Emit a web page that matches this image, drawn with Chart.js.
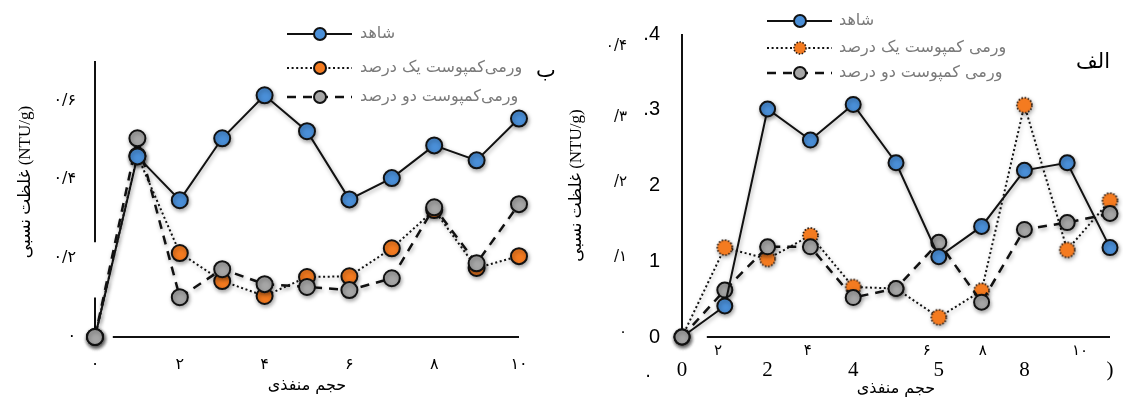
<!DOCTYPE html>
<html>
<head>
<meta charset="utf-8">
<script src="https://cdn.jsdelivr.net/npm/chart.js@4.4.1/dist/chart.umd.min.js"></script>
<style>
  html, body { margin: 0; padding: 0; background: #fff; }
  #wrap { position: relative; width: 1123px; height: 398px; }
  .panel { position: absolute; top: 0; height: 398px; }
  #panelB { left: 0; width: 560px; }
  #panelA { left: 560px; width: 563px; }
</style>
</head>
<body>
<div id="wrap">
  <div class="panel" id="panelB"><canvas id="chartB"></canvas></div>
  <div class="panel" id="panelA"><canvas id="chartA"></canvas></div>
</div>
<script>
// pore volumes (x values)
const poreVolume = [0, 1, 2, 3, 4, 5, 6, 7, 8, 9, 10];

// panel ب (left)
const controlB = [0, 0.458, 0.347, 0.504, 0.613, 0.522, 0.349, 0.403, 0.486, 0.448, 0.554];
const vermi1B  = [0, 0.46, 0.213, 0.142, 0.104, 0.152, 0.154, 0.225, 0.322, 0.175, 0.205];
const vermi2B  = [0, 0.504, 0.101, 0.172, 0.134, 0.127, 0.119, 0.149, 0.329, 0.187, 0.337];

// panel الف (right)
const controlA = [0, 0.041, 0.301, 0.260, 0.307, 0.230, 0.106, 0.146, 0.220, 0.230, 0.118];
const vermi1A  = [0, 0.118, 0.103, 0.134, 0.066, 0.064, 0.026, 0.061, 0.306, 0.115, 0.180];
const vermi2A  = [0, 0.062, 0.119, 0.119, 0.052, 0.064, 0.125, 0.046, 0.142, 0.151, 0.163];

// names / titles
const namesB = ['شاهد', 'ورمی‌کمپوست یک درصد', 'ورمی‌کمپوست دو درصد'];
const namesA = ['شاهد', 'ورمی کمپوست یک درصد', 'ورمی کمپوست دو درصد'];
const yTitle = 'غلظت نسبی (NTU/g)';
const xTitle = 'حجم منفذی';

// tick values and labels
const xTickValsB = [0, 2, 4, 6, 8, 10];
const xTickLabelsB = ['۰', '۲', '۴', '۶', '۸', '۱۰'];
const yTickValsB = [0, 0.2, 0.4, 0.6];
const yTickLabelsB = ['۰', '۰/۲', '۰/۴', '۰/۶'];

const xTickValsA = [0, 2, 4, 6, 8, 10];
const xTickLabelsA = ['0', '2', '4', '5', '8', ')'];
const xTickValsA2 = [0.84, 2.94, 5.72, 7.03, 9.3];
const xTickLabelsA2 = ['۲', '۴', '۶', '۸', '۱۰'];
const yTickValsA = [0, 0.1, 0.2, 0.3, 0.4];
const yTickLabelsA = ['0', '1', '2', '.3', '.4'];
const yTickValsA2 = [0.007, 0.106, 0.204, 0.29, 0.384];
const yTickLabelsA2 = ['۰', '/۱', '/۲', '/۳', '۰/۴'];

const BLUE = '#4a8fd8', ORANGE = '#f47b20', GREY = '#a6a6a6', INK = '#111';
const FA = '"DejaVu Sans", sans-serif';
const SERIF = '"Liberation Serif", "DejaVu Sans", serif';

// orange marker with a dotted rim (right panel)
function dottedDot(r) {
  const c = document.createElement('canvas');
  const s = Math.ceil(r * 2 + 4);
  c.width = c.height = s;
  const g = c.getContext('2d');
  g.fillStyle = ORANGE;
  g.beginPath();
  g.arc(s / 2, s / 2, r, 0, Math.PI * 2);
  g.fill();
  g.setLineDash([1.6, 1.6]);
  g.lineWidth = 1.7;
  g.strokeStyle = '#2a1a10';
  g.stroke();
  return c;
}

function makeDatasets(names, control, v1, v2, o) {
  const common = { fill: false, tension: 0, clip: false, pointBorderColor: INK, borderColor: INK };
  return [
    Object.assign({}, common, {
      label: names[0], data: control, order: 0, borderWidth: 2,
      pointRadius: o.r, pointBorderWidth: 2,
      pointBackgroundColor: c => c.dataIndex === 0 ? GREY : BLUE
    }),
    Object.assign({}, common, {
      label: names[1], data: v1, order: 2, borderWidth: 2, borderDash: [2, 2.6],
      pointRadius: o.r, pointBorderWidth: 2, pointBackgroundColor: ORANGE,
      pointStyle: o.dotted ? dottedDot(o.r) : 'circle'
    }),
    Object.assign({}, common, {
      label: names[2], data: v2, order: 1, borderWidth: 2.5, borderDash: [9, 7],
      pointRadius: o.r, pointBorderWidth: 2, pointBackgroundColor: GREY
    })
  ];
}

function drawMarker(ctx, x, y, r, fill, dotted) {
  ctx.save();
  ctx.fillStyle = fill;
  ctx.beginPath();
  ctx.arc(x, y, r, 0, Math.PI * 2);
  ctx.fill();
  ctx.strokeStyle = dotted ? '#2a1a10' : INK;
  ctx.lineWidth = dotted ? 1.6 : 2;
  ctx.setLineDash(dotted ? [1.5, 1.5] : []);
  ctx.stroke();
  ctx.restore();
}

// axis lines, point shadows, inline legend, panel letter
const decorPlugin = {
  id: 'panelDecor',
  beforeDatasetsDraw(chart, args, o) {
    const { ctx, scales: { x, y } } = chart;
    ctx.save();
    ctx.strokeStyle = INK;
    ctx.lineWidth = 2;
    ctx.beginPath();
    (o.xAxis || []).forEach(([a, b]) => {
      ctx.moveTo(x.getPixelForValue(a), y.getPixelForValue(0));
      ctx.lineTo(x.getPixelForValue(b), y.getPixelForValue(0));
    });
    (o.yAxis || []).forEach(([a, b]) => {
      ctx.moveTo(x.getPixelForValue(0), y.getPixelForValue(a));
      ctx.lineTo(x.getPixelForValue(0), y.getPixelForValue(b));
    });
    ctx.stroke();
    ctx.restore();
    ctx.save();
    ctx.shadowColor = 'rgba(0,0,0,0.35)';
    ctx.shadowBlur = 4;
    ctx.shadowOffsetX = 1;
    ctx.shadowOffsetY = 2;
  },
  afterDatasetsDraw(chart, args, o) {
    const ctx = chart.ctx;
    ctx.restore();
    const L = o.legend;
    const fills = [BLUE, ORANGE, GREY];
    chart.data.datasets.forEach((ds, i) => {
      const yy = L.rows[i];
      ctx.save();
      ctx.strokeStyle = INK;
      ctx.lineWidth = ds.borderWidth;
      ctx.setLineDash(ds.borderDash || []);
      ctx.beginPath();
      ctx.moveTo(L.x1, yy);
      ctx.lineTo(L.x2, yy);
      ctx.stroke();
      ctx.restore();
      drawMarker(ctx, L.xm, yy, L.r, fills[i], L.dotted && i === 1);
      ctx.save();
      ctx.fillStyle = '#7a7a7a';
      ctx.font = '16px ' + FA;
      ctx.textAlign = 'left';
      ctx.textBaseline = 'middle';
      ctx.fillText(ds.label, L.tx, yy);
      ctx.restore();
    });
    ctx.save();
    ctx.fillStyle = '#000';
    ctx.textAlign = 'center';
    ctx.textBaseline = 'middle';
    (o.texts || []).forEach(t => {
      ctx.font = t.size + 'px ' + FA;
      ctx.fillText(t.text, t.x, t.y);
    });
    ctx.restore();
  }
};

function tickAxis(vals, labels, extra) {
  return Object.assign({
    type: 'linear',
    grid: { display: false, drawTicks: false },
    border: { display: false },
    afterBuildTicks: s => { s.ticks = vals.map(v => ({ value: v })); },
    ticks: {
      autoSkip: false, maxRotation: 0, color: '#000',
      callback: (v, i) => labels[i]
    }
  }, extra);
}

// left panel (ب)
const scalesB = {
  x: tickAxis(xTickValsB, xTickLabelsB, {
    min: 0, max: 10, afterFit: s => { s.height = 61; },
    title: { display: true, text: xTitle, color: '#000', font: { family: FA, size: 16 }, padding: { top: 0, bottom: 3 } }
  }),
  y: tickAxis(yTickValsB, yTickLabelsB, {
    min: 0, max: 0.7, afterFit: s => { s.width = 95; },
    // leading spaces lift the title a little toward the top of the axis
    title: { display: true, text: '\u00A0'.repeat(8) + yTitle, color: '#000', font: { family: SERIF, size: 17 }, padding: { top: 15, bottom: 0 } }
  })
};
scalesB.x.ticks.padding = 18;
scalesB.x.ticks.font = { family: FA, size: 16 };
scalesB.y.ticks.padding = 19;
scalesB.y.ticks.font = { family: FA, size: 16 };

new Chart(document.getElementById('chartB'), {
  type: 'line',
  data: { labels: poreVolume, datasets: makeDatasets(namesB, controlB, vermi1B, vermi2B, { r: 8, dotted: false }) },
  options: {
    responsive: true, maintainAspectRatio: false, animation: false,
    layout: { padding: { top: 61, right: 41, left: 0, bottom: 0 } },
    plugins: {
      legend: { display: false }, tooltip: { enabled: false },
      panelDecor: {
        xAxis: [[0.42, 10]],
        yAxis: [[0.7, 0.24], [0.1, 0]],
        legend: { rows: [34, 68, 97], x1: 287, x2: 352, xm: 320, tx: 360, r: 6, dotted: false },
        texts: [{ text: 'ب', x: 546, y: 72, size: 21 }]
      }
    },
    scales: scalesB
  },
  plugins: [decorPlugin]
});

// right panel (الف)
const scalesA = {
  x: tickAxis(xTickValsA, xTickLabelsA, {
    min: 0, max: 10, weight: 1, afterFit: s => { s.height = 41; },
    title: { display: true, text: xTitle, color: '#000', font: { family: FA, size: 16 }, padding: { top: 0, bottom: 0 } }
  }),
  x2: tickAxis(xTickValsA2, xTickLabelsA2, {
    axis: 'x', position: 'bottom', min: 0, max: 10, weight: 0, afterFit: s => { s.height = 20; }
  }),
  y: tickAxis(yTickValsA, yTickLabelsA, {
    min: 0, max: 0.4, weight: 0, afterFit: s => { s.width = 44; }
  }),
  y2: tickAxis(yTickValsA2, yTickLabelsA2, {
    axis: 'y', position: 'left', min: 0, max: 0.4, weight: 1, afterFit: s => { s.width = 78; },
    title: { display: true, text: yTitle, color: '#000', font: { family: SERIF, size: 17 }, padding: { top: 6, bottom: 0 } }
  })
};
scalesA.x.ticks.padding = 1;
scalesA.x.ticks.font = { family: '"Liberation Serif", serif', size: 21 };
scalesA.x2.ticks.padding = 5;
scalesA.x2.ticks.font = { family: FA, size: 15 };
scalesA.y.ticks.padding = 22;
scalesA.y.ticks.font = { family: '"Liberation Sans", sans-serif', size: 20 };
scalesA.y2.ticks.padding = 11;
scalesA.y2.ticks.font = { family: FA, size: 15 };

new Chart(document.getElementById('chartA'), {
  type: 'line',
  data: { labels: poreVolume, datasets: makeDatasets(namesA, controlA, vermi1A, vermi2A, { r: 7.5, dotted: true }) },
  options: {
    responsive: true, maintainAspectRatio: false, animation: false,
    layout: { padding: { top: 34, right: 13, left: 0, bottom: 0 } },
    plugins: {
      legend: { display: false }, tooltip: { enabled: false },
      panelDecor: {
        xAxis: [[0.58, 10]],
        yAxis: [[0.4, 0]],
        legend: { rows: [21, 48, 73], x1: 207, x2: 272, xm: 240, tx: 279, r: 6, dotted: true },
        texts: [{ text: 'الف', x: 533, y: 63, size: 21 }, { text: '.', x: 88, y: 372, size: 18 }]
      }
    },
    scales: scalesA
  },
  plugins: [decorPlugin]
});
</script>
</body>
</html>
